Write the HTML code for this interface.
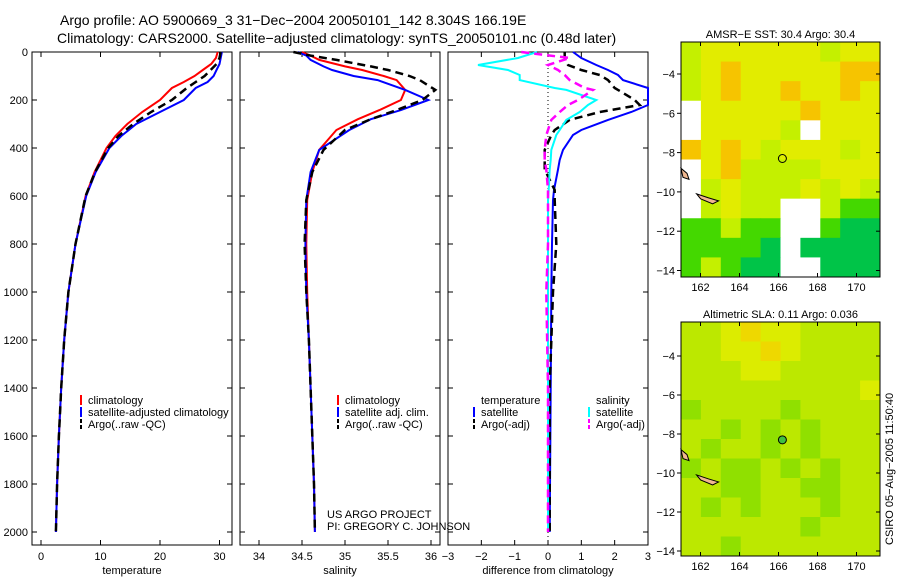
<!DOCTYPE html>
<html><head><meta charset="utf-8"><style>
body{margin:0;background:#fff}
svg{display:block;font-family:"Liberation Sans",sans-serif}
</style></head><body>
<svg id="c" width="900" height="580" viewBox="0 0 900 580" xmlns="http://www.w3.org/2000/svg">
<text x="60" y="25" font-size="14">Argo profile: AO 5900669_3 31−Dec−2004 20050101_142 8.304S 166.19E</text>
<text x="57" y="43" font-size="14">Climatology: CARS2000. Satellite−adjusted climatology: synTS_20050101.nc (0.48d later)</text>
<g id="g"></g>
<text x="327" y="518" font-size="11">US ARGO PROJECT</text>
<text x="327" y="530" font-size="11">PI: GREGORY C. JOHNSON</text>
<text transform="translate(893,545) rotate(-90)" font-size="11">CSIRO 05−Aug−2005 11:50:40</text>
</svg>
<script>
const depths=[0,25,50,75,100,125,150,200,250,300,350,400,500,600,800,1000,1200,1400,1600,1800,2000];
const tempClim=[29.7,29.4,28.6,27.2,25.8,24,22,20,17,14.5,12.5,11,9,7.5,5.8,4.6,3.9,3.4,3,2.7,2.5];
const tempSat=[30.4,30.2,30,29.5,29,28,26,24,20,16,13.5,11.5,9.2,7.6,5.8,4.6,3.9,3.4,3,2.7,2.5];
const tempArgo=[30.2,30,29.5,28.5,27.5,26,24.5,22,18.5,15.5,13,11.3,9.1,7.5,5.8,4.6,3.9,3.4,3,2.7,2.5];
const salDepths=[0,15,33,60,75,100,117,158,200,242,280,325,408,500,617,800,1000,1200,1400,1600,1800,2000];
const salClim=[34.5,34.6,34.7,35.0,35.2,35.45,35.6,35.7,35.65,35.4,35.15,34.9,34.7,34.62,34.56,34.55,34.56,34.58,34.6,34.62,34.64,34.65];
const salSat=[34.45,34.55,34.6,34.75,34.85,35.1,35.38,35.7,35.97,35.65,35.3,35.05,34.7,34.6,34.55,34.54,34.55,34.58,34.6,34.62,34.64,34.65];
const salArgo=[34.4,34.6,34.9,35.3,35.5,35.75,35.87,36.05,35.9,35.6,35.3,35.0,34.75,34.62,34.55,34.53,34.55,34.58,34.6,34.62,34.64,34.65];
const diffDepths=[0,25,54,75,96,117,150,158,200,221,250,283,325,346,408,450,490,575,617,800,1000,1400,2000];
const dTempSat=[0.75,1.0,1.45,1.8,2.1,2.25,3,3,3,3,2.5,1.8,1.0,0.75,0.45,0.35,0.3,0.18,0.15,0.12,0.1,0.08,0.05];
const dTempArgo=[0.5,0.5,0.6,1.0,1.55,1.8,2.0,2.1,2.6,2.75,1.55,0.65,0.2,0.1,-0.1,-0.1,-0.1,0.2,0.2,0.25,0.15,0.05,0.05];
const dSalSat=[-0.33,-0.9,-2.1,-1.2,-0.85,-0.85,0.2,0.55,1.45,1.2,0.95,0.55,0.35,0.25,0.1,0.08,0.05,0.02,0,0,0,0,0];
const dSalArgo=[-0.8,0.65,0,0.3,0.5,0.65,1.1,1.35,0.9,0.6,0.35,0.1,0,-0.05,-0.1,-0.1,-0.05,0,0,0,-0.05,0,0];
const yTicks=[0,200,400,600,800,1000,1200,1400,1600,1800,2000];
const tTicks=[0,10,20,30];
const sTicks=[34,34.5,35,35.5,36];
const dTicks=[-3,-2,-1,0,1,2,3];
const latTicks=[-4,-6,-8,-10,-12,-14];
const lonTicks=[162,164,166,168,170];
const sstGrid=["lyyyyyylyy","lyoyyyyyoo","lyoyyoyyoy","wyyyyyoyyy","wyyyylwyyy","oyoylyyyly","wyollllyyy","wlylllylyl","wlyllwwlgg","gglggwwgdd","ggggdwdddd","glgddwwddd"];
const slaGrid=["llyoyyllll","llyyoyllll","lllyylllll","llllllllly","gllllgllll","llglglglll","lgllglglll","glgglglgll","llggllggll","lglglllgll","llllllglll","llglllllll"];

const NS="http://www.w3.org/2000/svg";
const G=document.getElementById('g');
function mk(tag,attrs,parent){const e=document.createElementNS(NS,tag);for(const k in attrs)e.setAttribute(k,attrs[k]);(parent||G).appendChild(e);return e;}
const Y=d=>52+d*0.24;
const panels=[{x0:32,x1:232,f:v=>41+v*5.95,ticks:tTicks,label:'temperature',name:'temperature-panel'},
{x0:240,x1:440,f:v=>259+(v-34)*86,ticks:sTicks,label:'salinity',name:'salinity-panel'},
{x0:448,x1:648,f:v=>548+v*33.33,ticks:dTicks,label:'difference from climatology',name:'difference-panel'}];
panels.forEach((p,i)=>{
  const g=mk('g',{});
  
  
  const r=mk('rect',{x:p.x0,y:52,width:p.x1-p.x0,height:493,fill:'none',stroke:'#000'},g);
  
  
  p.ticks.forEach(t=>{const x=p.f(t);mk('line',{x1:x,x2:x,y1:545,y2:540,stroke:'#000'},g);mk('line',{x1:x,x2:x,y1:52,y2:57,stroke:'#000'},g);
    const tx=mk('text',{x:x,y:560,'font-size':11,'text-anchor':'middle'},g);tx.textContent=(t<0?'−'+(-t):t);
    
    });
  yTicks.forEach(d=>{const y=Y(d);mk('line',{x1:p.x0,x2:p.x0+5,y1:y,y2:y,stroke:'#000'},g);mk('line',{x1:p.x1,x2:p.x1-5,y1:y,y2:y,stroke:'#000'},g);
    if(i==0){const tx=mk('text',{x:28,y:y+4,'font-size':11,'text-anchor':'end'},g);tx.textContent=d;
    
    }});
  const xl=mk('text',{x:(p.x0+p.x1)/2,y:574,'font-size':11,'text-anchor':'middle'},g);xl.textContent=p.label;
  
  
});
mk('line',{x1:548,x2:548,y1:52,y2:545,stroke:'#000','stroke-dasharray':'1,3'});
function line(xs,ds,f,col,name,dash){
  const pts=xs.map((v,k)=>f(v).toFixed(1)+','+Y(ds[k]).toFixed(1)).join(' ');
  const e=mk('polyline',{points:pts,fill:'none',stroke:col,'stroke-width':dash?2.5:2});
  if(dash)e.setAttribute('stroke-dasharray','8,5');
  
  
}
const f0=panels[0].f,f1=panels[1].f,f2=v=>Math.min(648,panels[2].f(v));
line(tempClim,depths,f0,'#f00','temp-climatology-line');
line(tempSat,depths,f0,'#00f','temp-satellite-line');
line(tempArgo,depths,f0,'#000','temp-argo-line',1);
line(salClim,salDepths,f1,'#f00','sal-climatology-line');
line(salSat,salDepths,f1,'#00f','sal-satellite-line');
line(salArgo,salDepths,f1,'#000','sal-argo-line',1);
line(dTempSat,diffDepths,f2,'#00f','diff-temp-satellite-line');
line(dTempArgo,diffDepths,f2,'#000','diff-temp-argo-line',1);
line(dSalSat,diffDepths,f2,'#0ff','diff-sal-satellite-line');
line(dSalArgo,diffDepths,f2,'#f0f','diff-sal-argo-line',1);
function legend(x,y,items,name){
  const g=mk('g',{});
  
  
  items.forEach((it,k)=>{const yy=y+k*12;
    const l=mk('line',{x1:x,x2:x,y1:yy-9,y2:yy+1,stroke:it[1],'stroke-width':2},g);
    if(it[2])l.setAttribute('stroke-dasharray','4,2');
    const t=mk('text',{x:x+7,y:yy,'font-size':11},g);t.textContent=it[0];});
}
legend(81,404,[['climatology','#f00'],['satellite-adjusted climatology','#00f'],['Argo(..raw -QC)','#000',1]],'temperature-legend');
legend(338,404,[['climatology','#f00'],['satellite adj. clim.','#00f'],['Argo(..raw -QC)','#000',1]],'salinity-legend');
const th=mk('text',{x:481,y:404,'font-size':11});th.textContent='temperature';
const sh=mk('text',{x:596,y:404,'font-size':11});sh.textContent='salinity';
legend(474,416,[['satellite','#00f'],['Argo(-adj)','#000',1]],'diff-temp-legend');
legend(589,416,[['satellite','#0ff'],['Argo(-adj)','#f0f',1]],'diff-sal-legend');
const colsSST={o:'#f6c400',y:'#e2ec00',l:'#c4f000',g:'#44d800',d:'#00c448',w:'#ffffff'};
const colsSLA={o:'#eed800',y:'#dcec00',l:'#bce800',g:'#90e000',d:'#60d000',w:'#ffffff'};
function map(top,bot,lat4,lat14,grid,cols,title,name,mfill){
  const g=mk('g',{});
  
  
  const x0=681,x1=880,lon=v=>700.5+(v-162)*19.5,lat=v=>lat4+(v+4)/(-10)*(lat14-lat4);
  const nr=grid.length,nc=grid[0].length,cw=(x1-x0)/nc,ch=(bot-top)/nr;
  grid.forEach((row,r)=>[...row].forEach((c,k)=>{
    const cell=mk('rect',{x:x0+k*cw,y:top+r*ch,width:cw+0.5,height:ch+0.5,fill:cols[c]},g);
    
    }));
  mk('rect',{x:x0,y:top,width:x1-x0,height:bot-top,fill:'none',stroke:'#000'},g);
  latTicks.forEach(v=>{const y=lat(v);mk('line',{x1:x0,x2:x0-4,y1:y,y2:y,stroke:'#000'},g);mk('line',{x1:x1,x2:x1-4,y1:y,y2:y,stroke:'#000'},g);
    const t=mk('text',{x:x0-6,y:y+4,'font-size':11,'text-anchor':'end'},g);t.textContent='−'+(-v);});
  lonTicks.forEach(v=>{const x=lon(v);mk('line',{x1:x,x2:x,y1:bot,y2:bot-4,stroke:'#000'},g);mk('line',{x1:x,x2:x,y1:top,y2:top+4,stroke:'#000'},g);
    const t=mk('text',{x:x,y:bot+14,'font-size':11,'text-anchor':'middle'},g);t.textContent=v;});
  const tt=mk('text',{x:(x0+x1)/2,y:top-4,'font-size':11,'text-anchor':'middle'},g);tt.textContent=title;
  mk('path',{d:`M${x0} ${lat(-8.8)} l6 5 l2 6 l-6 -2 Z M${lon(161.8)} ${lat(-10.1)} l12 4 l10 3 l-6 3 l-12 -5 Z`,fill:'#f0b890',stroke:'#000'},g);
  const m=mk('circle',{cx:lon(166.2),cy:lat(-8.3),r:4,fill:mfill,stroke:'#000'},g);
  
  
}
map(42,277,74,270.5,sstGrid,colsSST,'AMSR−E SST: 30.4 Argo: 30.4','sst-map','none');
map(322,556,356,551,slaGrid,colsSLA,'Altimetric SLA: 0.11 Argo: 0.036','sla-map','#40c040');
</script>
</body></html>
